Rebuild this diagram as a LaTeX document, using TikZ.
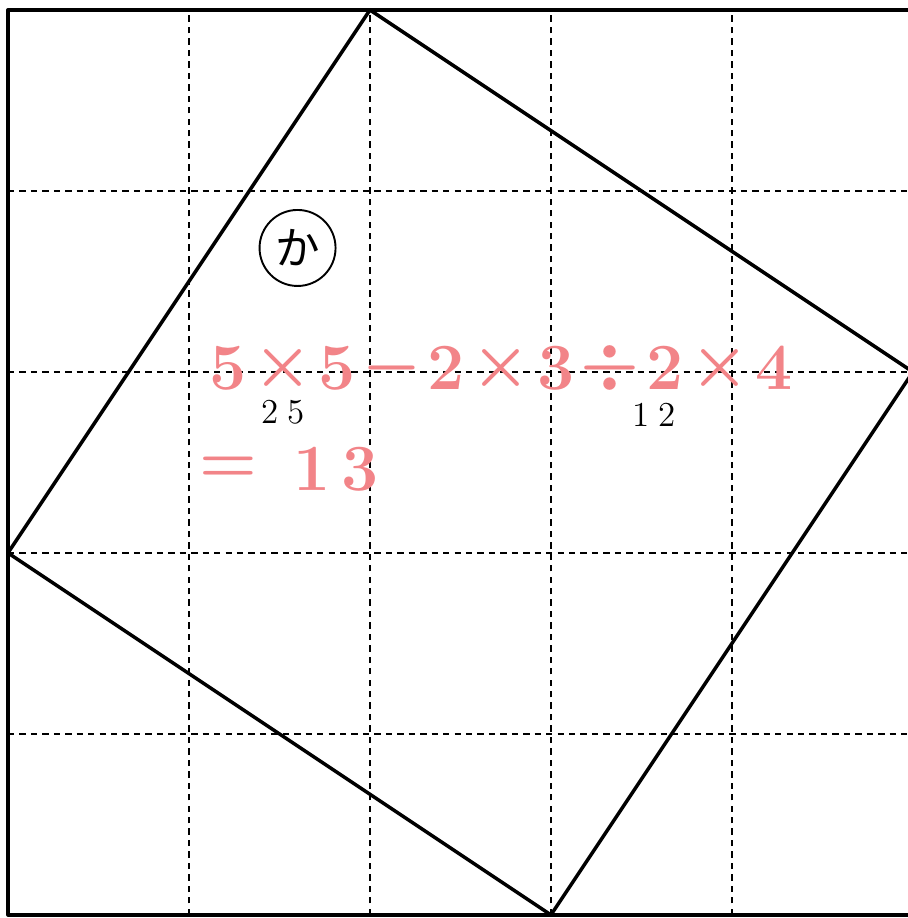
\documentclass[tikz,border=0pt]{standalone}
\usepackage{fontspec}
\newfontfamily\jpfont{Noto Sans CJK JP}
\usetikzlibrary{calc}
\definecolor{pinkred}{RGB}{242,132,136}

\begin{document}
\begin{tikzpicture}[line join=round,scale=2]
\useasboundingbox (-0.044,-0.017) rectangle (4.972,5.055);
\coordinate (P) at (2,5);
\coordinate (Q) at (5,3);
\coordinate (R) at (3,0);
\coordinate (S) at (0,2);
\foreach \k in {1,...,4}{\draw[line width=0.7pt,dash pattern=on 2pt off 1.6pt](\k,0)--(\k,5) (0,\k)--(5,\k);}
\draw[line width=1pt](0,0) rectangle (5,5);
\draw[line width=1.1pt](P)--(Q)--(R)--(S)--cycle;
\node[draw,circle,minimum size=0.84cm,inner sep=0pt,line width=0.6pt,font=\jpfont\fontsize{14}{14}\selectfont] (ka) at (1.6,3.685) {か};
\coordinate (eq) at (1.215,3.02);
\foreach \c [count=\i from 0] in {5,\times,5,-,2,\times,3,\div,2,\times,4}{\node[text=pinkred,inner sep=0pt,font=\fontsize{21}{24}\selectfont\boldmath] (c\i) at ($(eq)+(0.302*\i,0)$) {$\mathbf{\c}$};}
\foreach \c/\x [count=\i] in {=/1.215,1/1.68,3/1.945}{\node[text=pinkred,inner sep=0pt,font=\fontsize{21}{24}\selectfont\boldmath] (ans\i) at (\x,2.46) {$\mathbf{\c}$};}
\node[inner sep=0pt,font=\fontsize{11}{13}\selectfont] (sq) at (1.52,2.775) {2\hspace{3pt}5};
\node[inner sep=0pt,font=\fontsize{11}{13}\selectfont] (tri) at (3.57,2.765) {1\hspace{3pt}2};
\end{tikzpicture}
\end{document}
